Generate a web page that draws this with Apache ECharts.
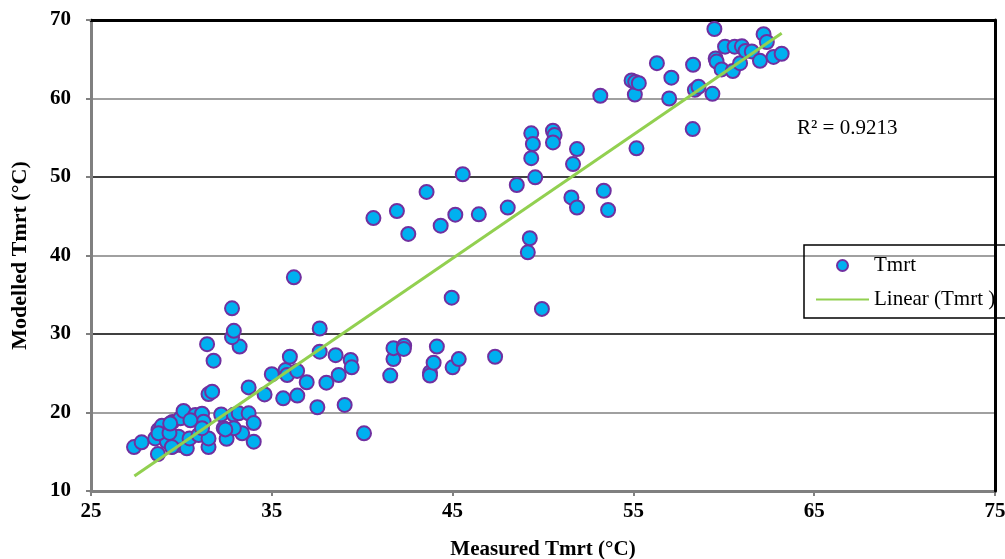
<!DOCTYPE html>
<html>
<head>
<meta charset="utf-8">
<script src="https://cdn.jsdelivr.net/npm/echarts@6/dist/echarts.min.js"></script>
<style>
html,body{margin:0;padding:0;background:#fff;}
#chart{width:1005px;height:559px;}
</style>
</head>
<body>
<div id="chart"></div>
<script>
// Measured Tmrt (°C)
const measured = [
  27.38, 27.8, 28.7, 28.55, 28.73, 28.92, 29.29, 29.5, 29.94, 30.12,
  29.2, 29.5, 29.94, 30.3, 29.84, 30.45, 30.77, 31.14, 31.23, 30.95,
  31.5, 30.5, 32.2, 32.34, 32.5, 32.9, 33.17, 33.72, 34.0, 33.36,
  34.0, 32.9, 31.5, 31.14, 28.73, 29.34, 29.38, 29.47, 32.43,
  31.5, 31.7, 33.72, 34.6, 35.63, 36.41, 37.52, 39.03, 40.1, 35.0,
  35.76, 35.85, 36.4, 36.93, 38.02, 38.7, 36.0, 37.65, 38.53, 39.36,
  39.42, 37.65, 31.78, 31.42, 33.22, 32.8, 32.9, 32.8, 36.22,
  41.55, 41.73, 41.73, 42.32, 42.3, 43.75, 43.75, 43.95, 44.13, 45.0,
  45.34, 47.35, 44.95, 49.94, 49.16, 49.27,
  40.62, 41.92, 42.55, 43.56, 44.34, 45.15, 45.56, 46.45, 48.05, 48.55,
  49.35, 49.44, 49.35, 49.57, 50.55, 50.64, 50.55, 51.88, 51.66, 51.57,
  51.88, 53.36, 53.6, 55.17, 53.17, 55.08, 54.9, 55.1, 55.3, 56.3,
  57.1, 56.98, 58.28, 58.3, 58.4, 58.6, 59.37, 59.48, 59.55, 59.6,
  59.88, 60.07, 60.5, 60.6, 60.9, 61.0, 61.2, 61.55, 62.0, 62.2,
  62.38, 62.75, 63.2
];
// Modelled Tmrt (°C)
const modelled = [
  15.6, 16.2, 14.7, 16.7, 17.77, 18.3, 17.55, 18.8, 19.26, 20.2,
  16.28, 15.65, 15.86, 15.44, 16.92, 16.7, 19.68, 19.85, 18.83, 17.13,
  15.6, 19.0, 19.75, 18.0, 16.65, 19.7, 19.9, 19.9, 18.65, 17.35,
  16.28, 18.0, 16.7, 18.0, 17.35, 17.4, 18.6, 15.6, 17.85,
  22.35, 22.65, 23.2, 22.3, 21.8, 22.15, 20.67, 20.96, 17.35, 24.87,
  25.4, 24.78, 25.3, 23.85, 23.8, 24.78, 27.1, 27.75, 27.3, 26.7,
  25.75, 30.7, 26.6, 28.7, 28.4, 29.6, 30.4, 33.27, 37.22,
  24.7, 26.8, 28.2, 28.5, 28.1, 25.1, 24.7, 26.35, 28.4, 25.75,
  26.8, 27.1, 34.63, 33.2, 40.4, 42.2,
  44.77, 45.67, 42.75, 48.1, 43.8, 45.2, 50.35, 45.25, 46.1, 48.98,
  55.56, 54.2, 52.4, 49.96, 55.9, 55.35, 54.4, 53.56, 51.65, 47.4,
  46.1, 48.25, 45.8, 53.65, 60.35, 60.5, 62.3, 62.1, 61.95, 64.5,
  62.65, 60.0, 56.1, 64.3, 61.1, 61.5, 60.6, 68.85, 65.1, 64.7,
  63.7, 66.6, 63.5, 66.6, 64.5, 66.65, 66.05, 66.0, 64.8, 68.2,
  67.2, 65.3, 65.7
];
// Linear trend line end points
const trendX = [27.4, 63.2];
const trendY = [11.9, 68.3];
const xTicks = [25, 35, 45, 55, 65, 75];
const yTicks = [10, 20, 30, 40, 50, 60, 70];
const r2Label = 'R² = 0.9213';

const scatterData = measured.map((x, i) => [x, modelled[i]]);
const trendData = trendX.map((x, i) => [x, trendY[i]]);

const serif = '"Liberation Serif", "Times New Roman", serif';
const chart = echarts.init(document.getElementById('chart'), null, {renderer: 'canvas'});
chart.setOption({
  animation: false,
  backgroundColor: '#fff',
  grid: {left: 91, right: 10, top: 20, bottom: 68, containLabel: false, outerBoundsMode: 'none'},
  legend: {
    orient: 'vertical',
    left: 804, top: 245,
    padding: [10, 40, 8, 11],
    itemWidth: 53, itemHeight: 11, itemGap: 13,
    borderColor: '#000', borderWidth: 1.5,
    textStyle: {fontFamily: serif, fontSize: 21, color: '#000'},
    data: [
      {name: 'Tmrt', icon: 'circle'},
      {name: 'Linear (Tmrt )', itemStyle: {opacity: 0}}
    ]
  },
  graphic: [{
    type: 'text', left: 797, top: 118,
    style: {text: r2Label, font: '21px "Liberation Serif"', fill: '#000'}
  }],
  xAxis: [{
    type: 'value', min: xTicks[0], max: xTicks[xTicks.length - 1], interval: 10,
    position: 'bottom',
    axisLine: {lineStyle: {color: '#808080', width: 3}},
    axisTick: {show: true, length: 5, lineStyle: {color: '#808080', width: 2}},
    splitLine: {show: false},
    axisLabel: {fontFamily: serif, fontWeight: 'bold', fontSize: 21, color: '#000', margin: 10},
    name: 'Measured Tmrt (°C)', nameLocation: 'middle', nameGap: 48,
    nameTextStyle: {fontFamily: serif, fontWeight: 'bold', fontSize: 21, color: '#000'}
  }, {
    type: 'value', min: xTicks[0], max: xTicks[xTicks.length - 1], position: 'top',
    axisLine: {show: true, lineStyle: {color: '#000', width: 3}},
    axisTick: {show: false}, axisLabel: {show: false}, splitLine: {show: false}
  }],
  yAxis: [{
    type: 'value', min: yTicks[0], max: yTicks[yTicks.length - 1], interval: 10,
    axisLine: {show: true, lineStyle: {color: '#808080', width: 3}},
    axisTick: {show: true, length: 5, lineStyle: {color: '#808080', width: 2}},
    splitLine: {show: true, lineStyle: {color: ['#000', '#808080'], width: 1.5}},
    axisLabel: {fontFamily: serif, fontWeight: 'bold', fontSize: 21, color: '#000', margin: 20},
    name: 'Modelled Tmrt (°C)', nameLocation: 'middle', nameGap: 60, nameRotate: 90,
    nameTextStyle: {fontFamily: serif, fontWeight: 'bold', fontSize: 22, color: '#000'}
  }, {
    type: 'value', min: yTicks[0], max: yTicks[yTicks.length - 1], position: 'right', z: 10,
    axisLine: {show: true, lineStyle: {color: '#000', width: 3}},
    axisTick: {show: false}, axisLabel: {show: false}, splitLine: {show: false}
  }],
  series: [{
    name: 'Tmrt', type: 'scatter', xAxisIndex: 0, yAxisIndex: 0,
    data: scatterData, symbol: 'circle', symbolSize: 14,
    itemStyle: {color: '#00B0F0', borderColor: '#7030A0', borderWidth: 2, opacity: 1}
  }, {
    name: 'Linear (Tmrt )', type: 'line', xAxisIndex: 0, yAxisIndex: 0,
    data: trendData, symbol: 'none', z: 5,
    lineStyle: {color: '#92D050', width: 3},
    itemStyle: {color: '#92D050'}
  }]
});
</script>
</body>
</html>
